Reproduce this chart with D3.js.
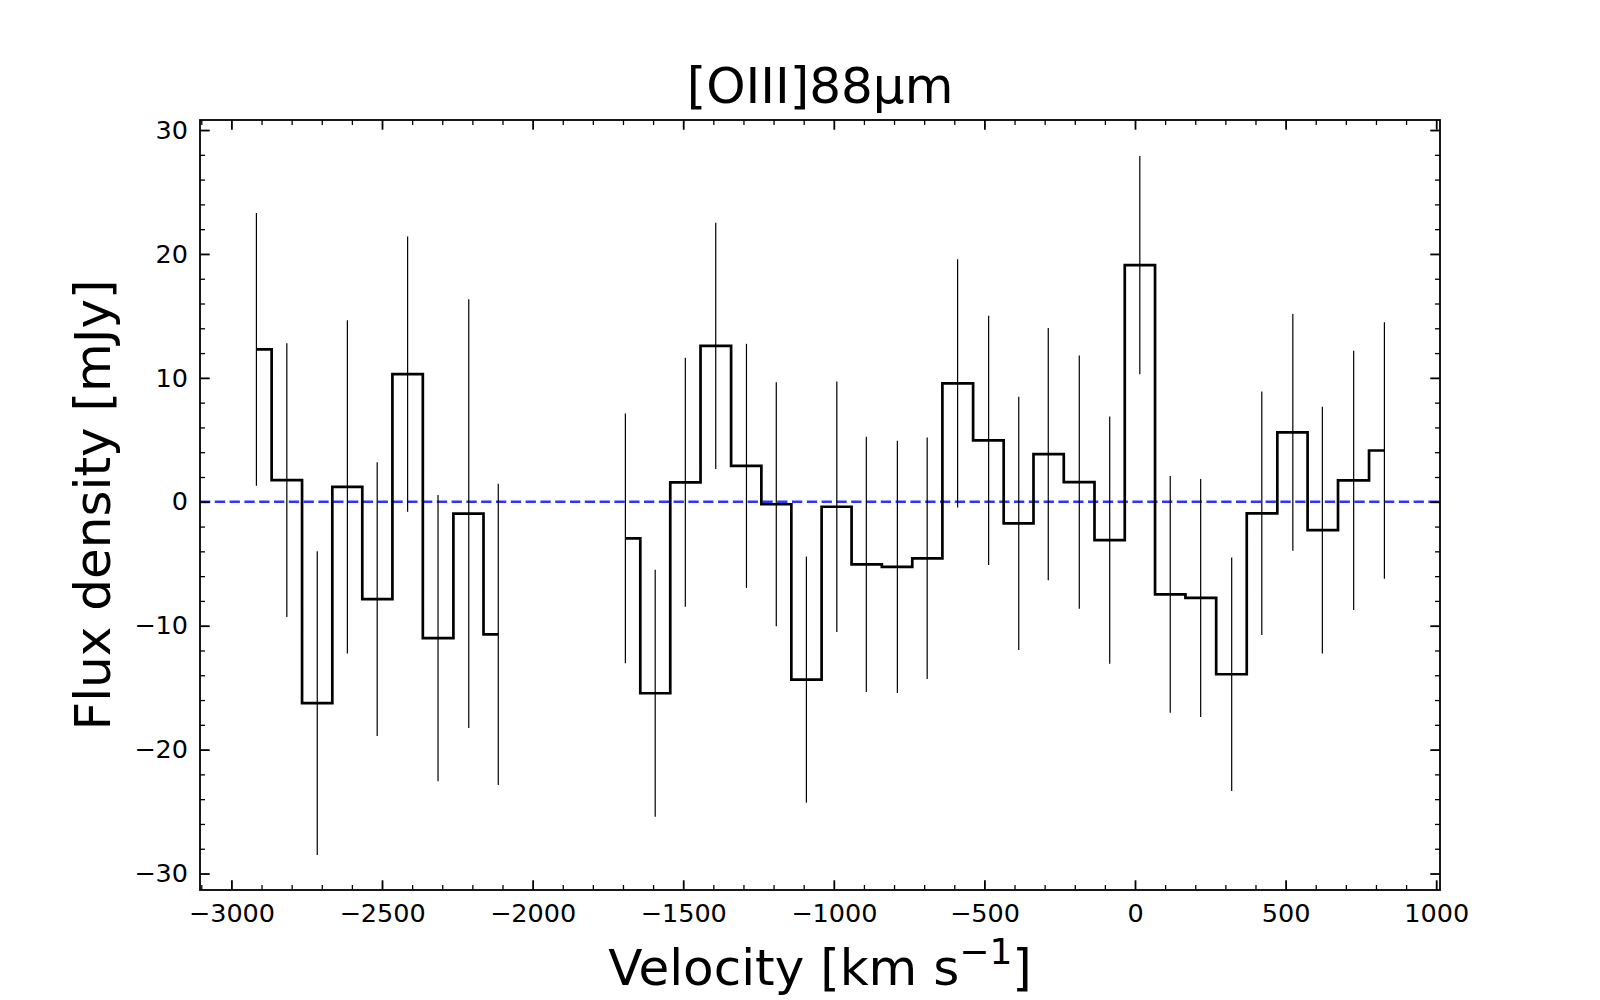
<!DOCTYPE html>
<html>
<head>
<meta charset="utf-8">
<script src="https://cdn.jsdelivr.net/npm/d3@7"></script>
<style>
  html, body { margin: 0; padding: 0; background: #fff; }
  svg { display: block; font-family: "DejaVu Sans", sans-serif; }
</style>
</head>
<body>
<svg id="chart" width="1600" height="1000"></svg>
<script>
// Spectrum channels (two spectral windows)
const velocityA = [-2917, -2816, -2715, -2615, -2516, -2415, -2314, -2212, -2114];
const fluxA = [12.3, 1.75, -16.25, 1.2, -7.85, 10.3, -11.0, -0.95, -10.7];
const errA = [11.0, 11.05, 12.25, 13.45, 11.05, 11.1, 11.55, 17.3, 12.15];

const velocityB = [-1692, -1593, -1493, -1392, -1290, -1191, -1091, -990, -892, -789,
                   -690, -589, -486, -386, -288, -185, -84, 16, 117, 218,
                   321, 421, 524, 622, 726, 828];
const fluxB = [-2.95, -15.45, 1.57, 12.58, 2.9, -0.2, -14.35, -0.4, -5.05, -5.26,
               -4.56, 9.55, 4.96, -1.74, 3.84, 1.59, -3.09, 19.1, -7.47, -7.76,
               -13.92, -0.93, 5.6, -2.29, 1.73, 4.14];
const errB = [10.08, 9.96, 10.05, 9.93, 9.85, 9.85, 9.93, 10.1, 10.3, 10.18,
              9.74, 10.02, 10.06, 10.22, 10.18, 10.22, 9.98, 8.81, 9.56, 9.6,
              9.42, 9.83, 9.56, 9.95, 10.46, 10.35];

const xMajorTicks = [-3000, -2500, -2000, -1500, -1000, -500, 0, 500, 1000];
const yMajorTicks = [-30, -20, -10, 0, 10, 20, 30];

const titleText = '[OIII]88μm';

// Layout (matplotlib default subplot box)
const margin = { top: 120, right: 160, bottom: 110, left: 200 };
const fullWidth = 1600, fullHeight = 1000;
const width = fullWidth - margin.left - margin.right;
const height = fullHeight - margin.top - margin.bottom;

const svg = d3.select('#chart');
const g = svg.append('g').attr('transform', `translate(${margin.left},${margin.top})`);

const x = d3.scaleLinear().domain([-3104.3, 1012.6]).range([0, width]);
const y = d3.scaleLinear().domain([-31.33, 30.81]).range([height, 0]);

const xMinor = d3.range(-3100, 1001, 100).filter(v => v % 500 !== 0);
const yMinor = d3.range(-30, 31, 2).filter(v => v % 10 !== 0);

const MAJOR = 9.7, MINOR = 5;

// Clip for data marks
g.append('clipPath').attr('id', 'plotClip')
  .append('rect').attr('width', width).attr('height', height);

// Zero line
g.append('line')
  .attr('x1', 0).attr('x2', width)
  .attr('y1', y(0)).attr('y2', y(0))
  .attr('stroke', '#3333ff')
  .attr('stroke-width', 2.6)
  .attr('stroke-dasharray', '10.3,4.5');

const plot = g.append('g').attr('clip-path', 'url(#plotClip)');

const groups = [
  { v: velocityA, f: fluxA, e: errA },
  { v: velocityB, f: fluxB, e: errB }
];

const stepLine = d3.line()
  .x(d => x(d[0]))
  .y(d => y(d[1]))
  .curve(d3.curveStep);

groups.forEach(grp => {
  const pts = grp.v.map((v, i) => [v, grp.f[i], grp.e[i]]);

  // Error bars
  plot.selectAll(null)
    .data(pts)
    .enter()
    .append('line')
    .attr('x1', d => x(d[0]))
    .attr('x2', d => x(d[0]))
    .attr('y1', d => y(d[1] - d[2]))
    .attr('y2', d => y(d[1] + d[2]))
    .attr('stroke', '#000')
    .attr('stroke-width', 1.2);

  // Step spectrum
  plot.append('path')
    .datum(pts)
    .attr('d', stepLine)
    .attr('fill', 'none')
    .attr('stroke', '#000')
    .attr('stroke-width', 2.7)
    .attr('stroke-linejoin', 'miter');
});

// Axes, ticks pointing inward on all sides
function styleAxis(sel, w) {
  sel.select('.domain').remove();
  sel.selectAll('.tick line').attr('stroke', '#000').attr('stroke-width', w);
  sel.selectAll('.tick text')
    .attr('fill', '#000')
    .style('font-size', '25.5px')
    .style('font-family', '"DejaVu Sans", sans-serif');
}

const fmt = d => d < 0 ? '\u2212' + Math.abs(d) : String(d);

g.append('g')
  .attr('transform', `translate(0,${height})`)
  .call(d3.axisBottom(x).tickValues(xMajorTicks).tickFormat(fmt)
    .tickSizeInner(-MAJOR).tickSizeOuter(0).tickPadding(14))
  .call(s => styleAxis(s, 1.8));

g.append('g')
  .attr('transform', `translate(0,${height})`)
  .call(d3.axisBottom(x).tickValues(xMinor).tickFormat('')
    .tickSizeInner(-MINOR).tickSizeOuter(0))
  .call(s => styleAxis(s, 1.3));

g.append('g')
  .call(d3.axisTop(x).tickValues(xMajorTicks).tickFormat('')
    .tickSizeInner(-MAJOR).tickSizeOuter(0))
  .call(s => styleAxis(s, 1.8));

g.append('g')
  .call(d3.axisTop(x).tickValues(xMinor).tickFormat('')
    .tickSizeInner(-MINOR).tickSizeOuter(0))
  .call(s => styleAxis(s, 1.3));

g.append('g')
  .call(d3.axisLeft(y).tickValues(yMajorTicks).tickFormat(fmt)
    .tickSizeInner(-MAJOR).tickSizeOuter(0).tickPadding(12))
  .call(s => styleAxis(s, 1.8));

g.append('g')
  .call(d3.axisLeft(y).tickValues(yMinor).tickFormat('')
    .tickSizeInner(-MINOR).tickSizeOuter(0))
  .call(s => styleAxis(s, 1.3));

g.append('g')
  .attr('transform', `translate(${width},0)`)
  .call(d3.axisRight(y).tickValues(yMajorTicks).tickFormat('')
    .tickSizeInner(-MAJOR).tickSizeOuter(0))
  .call(s => styleAxis(s, 1.8));

g.append('g')
  .attr('transform', `translate(${width},0)`)
  .call(d3.axisRight(y).tickValues(yMinor).tickFormat('')
    .tickSizeInner(-MINOR).tickSizeOuter(0))
  .call(s => styleAxis(s, 1.3));

// Frame
g.append('rect')
  .attr('width', width).attr('height', height)
  .attr('fill', 'none')
  .attr('stroke', '#000')
  .attr('stroke-width', 1.8);

// Title
svg.append('text')
  .attr('x', margin.left + width / 2)
  .attr('y', 103)
  .attr('text-anchor', 'middle')
  .style('font-size', '50px')
  .text(titleText);

// X label with superscript
const xLabel = svg.append('text')
  .attr('x', margin.left + width / 2)
  .attr('y', 985)
  .attr('text-anchor', 'middle')
  .style('font-size', '50px');
xLabel.append('tspan').text('Velocity [km s');
xLabel.append('tspan').attr('dy', -21).style('font-size', '36px').text('\u22121');
xLabel.append('tspan').attr('dy', 21).text(']');

// Y label
svg.append('text')
  .attr('transform', `translate(110,${margin.top + height / 2}) rotate(-90)`)
  .attr('text-anchor', 'middle')
  .style('font-size', '50px')
  .text('Flux density [mJy]');
</script>
</body>
</html>
